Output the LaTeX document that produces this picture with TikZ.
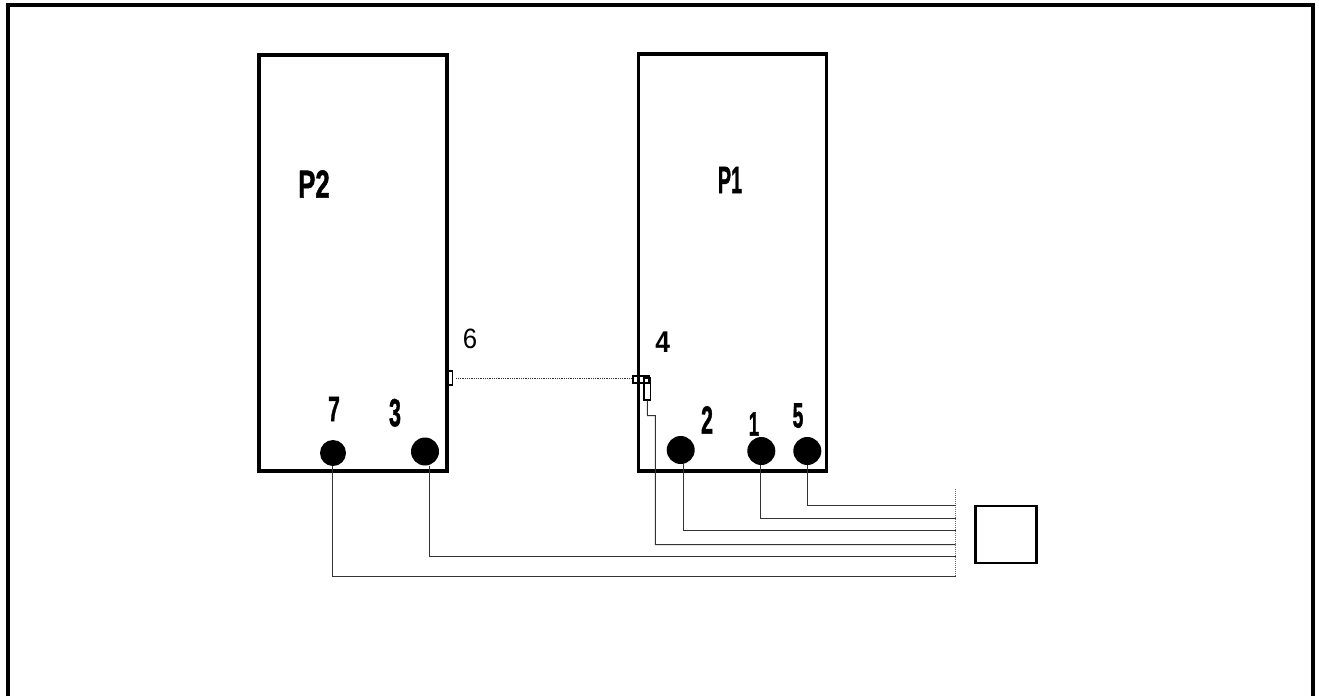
\documentclass[tikz,border=0pt]{standalone}
\usepackage{fontspec}
\setmainfont{Liberation Sans}
\newfontfamily\heavyface[FakeBold=1.5]{Liberation Sans Bold}
\newcommand{\narrowbold}[2]{\scalebox{#1}[1]{\heavyface #2}}
\tikzset{
  panel/.style={draw=black,line width=3.5pt,rectangle,inner sep=0pt,minimum width=#1},
  term/.style={circle,fill=black,draw=none,inner sep=0pt,minimum size=#1},
  wire/.style={draw=black!80,line width=1pt},
  tiny box/.style={draw=black,line width=1.2pt,inner sep=0pt,fill=none},
  dig/.style={font=\fontsize{#1}{#1}\selectfont,inner sep=0pt},
  plain lab/.style={font=\fontsize{#1}{#1}\selectfont,inner sep=0pt}
}
\begin{document}
\begin{tikzpicture}[x=1pt,y=-1pt]
\useasboundingbox (0,0) rectangle (1319,696);
\draw[line width=4pt] (8,696) -- (8,5) -- (1313,5) -- (1313,696);
% panels
\node[panel=188pt,minimum height=416pt] (P2) at (353,263) {};
\node[panel=188pt,minimum height=417pt] (P1) at (732.3,262.5) {};
\node[draw=black,line width=2.6pt,minimum width=61pt,minimum height=57pt,inner sep=0pt] (unit) at (1005.8,534.5) {};
% terminals
\node[term=26pt] (t7) at (333,453) {};
\node[term=28pt] (t3) at (425,451.5) {};
\node[term=28pt] (t2) at (680.7,450) {};
\node[term=28pt] (t1) at (761.3,451) {};
\node[term=28pt] (t5) at (807.3,451) {};
% small sensors
\node[tiny box,minimum width=5pt,minimum height=14pt] (s6) at (450,378) {};
\node[tiny box,minimum width=16pt,minimum height=7pt] (s4a) at (641,379.5) {};
\node[tiny box,minimum width=6.5pt,minimum height=22pt] (s4b) at (647.3,389) {};
% bus
\coordinate (busT) at (955.7,489);
\coordinate (busB) at (955.7,576.5);
\coordinate (b5) at (955.7,505);
\coordinate (b1) at (955.7,518);
\coordinate (b2) at (955.7,530.5);
\coordinate (b4) at (955.7,544.5);
\coordinate (b3) at (955.7,556);
\coordinate (b7) at (955.7,576.5);
\coordinate (k1) at (647.5,415.7);
\coordinate (k2) at (655.3,415.7);
\draw[black!55,line width=1pt,densely dotted] (busT) -- (busB);
\draw[line width=0.8pt,densely dotted,black!80] (s6.east)++(3,0) -- (s4a.west |- s6.east);
% wires
\draw[wire] (t5.south) ++(0.5,0) |- (b5);
\draw[wire] (t1.south) ++(-1,0) |- (b1);
\draw[wire] (t2.south) ++(2.5,0) |- (b2);
\draw[wire] (s4b.south) -- (k1) -- (k2) |- (b4);
\draw[wire] (t3.south) ++(4,0) |- (b3);
\draw[wire] (t7.south) ++(-0.5,0) |- (b7);
% labels
\node[dig=39] (lP2) at (314,184) {\narrowbold{0.66}{P2}};
\node[dig=38] (lP1) at (730,180) {\narrowbold{0.52}{P1}};
\node[dig=35] (l7) at (334,409) {\narrowbold{0.6}{7}};
\node[dig=39] (l3) at (395,412.7) {\narrowbold{0.55}{3}};
\node[dig=39] (l2) at (707,420) {\narrowbold{0.55}{2}};
\node[dig=34] (l1) at (754,424) {\narrowbold{0.55}{1}};
\node[dig=35] (l5) at (798,415.7) {\narrowbold{0.55}{5}};
\node[plain lab=30,font=\bfseries\fontsize{30}{30}\selectfont] (l4) at (662.7,342) {\scalebox{0.88}[1]{4}};
\node[plain lab=28] (l6) at (470,339) {\scalebox{0.92}[1]{6}};
\end{tikzpicture}
\end{document}
